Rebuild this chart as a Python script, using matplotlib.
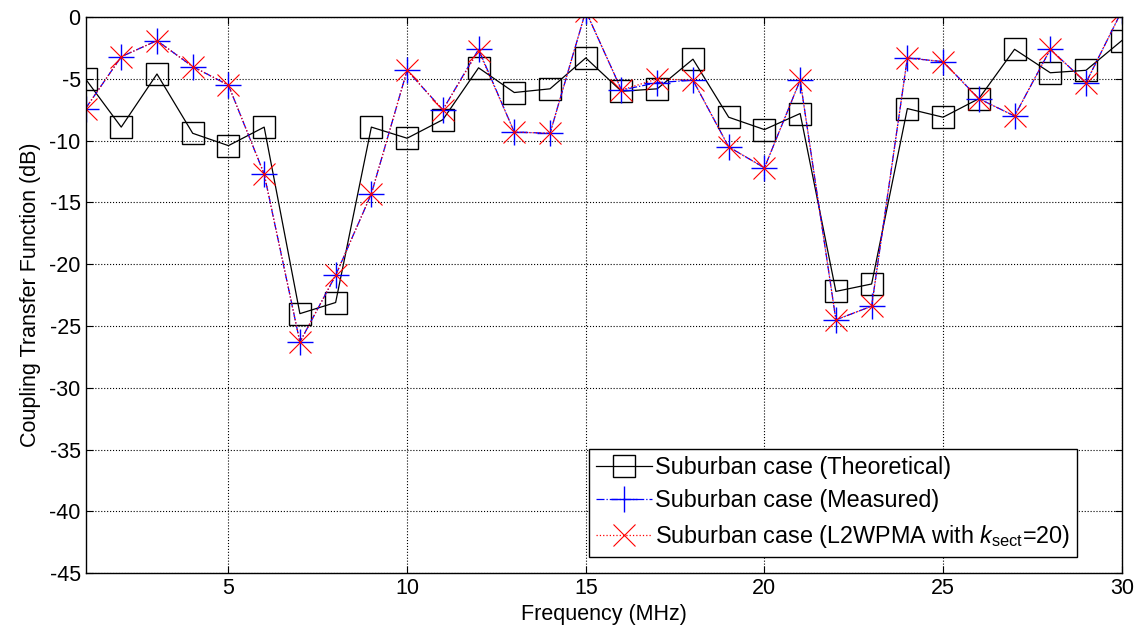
import numpy as np
import matplotlib
matplotlib.use("Agg")
import matplotlib.pyplot as plt

plt.rcParams['font.family'] = ['Liberation Sans', 'DejaVu Sans']
plt.rcParams['mathtext.fontset'] = 'custom'
plt.rcParams['mathtext.rm'] = 'Liberation Sans'
plt.rcParams['mathtext.it'] = 'Liberation Sans:italic'
plt.rcParams['axes.unicode_minus'] = False

# frequencies in MHz
freq = list(range(1, 31))

# coupling transfer function (dB)
theoretical = [-5.0, -8.9, -4.6, -9.4, -10.4, -8.9, -24.0, -23.1, -8.9, -9.8,
               -8.3, -4.1, -6.1, -5.8, -3.3, -6.0, -5.8, -3.4, -8.1, -9.1,
               -7.8, -22.2, -21.6, -7.4, -8.1, -6.6, -2.6, -4.5, -4.3, -1.9]
measured = [-7.4, -3.2, -1.9, -4.0, -5.5, -12.7, -26.3, -20.9, -14.3, -4.3,
            -7.5, -2.6, -9.3, -9.4, 0.5, -5.9, -5.3, -5.1, -10.5, -12.2,
            -5.1, -24.5, -23.4, -3.3, -3.6, -6.6, -8.0, -2.6, -5.3, 0.5]
l2wpma = [-7.4, -3.2, -1.9, -4.0, -5.5, -12.7, -26.3, -20.9, -14.3, -4.3,
          -7.5, -2.7, -9.3, -9.4, 0.5, -5.9, -5.0, -5.1, -10.5, -12.2,
          -5.1, -24.5, -23.4, -3.3, -3.6, -6.6, -8.0, -2.6, -5.3, 0.5]

labels = ['Suburban case (Theoretical)',
          'Suburban case (Measured)',
          r'Suburban case (L2WPMA with $k_{\mathrm{sect}}$=20)']

xticks = [5, 10, 15, 20, 25, 30]
yticks = list(range(-45, 1, 5))

fig = plt.figure(figsize=(11.4, 6.36), dpi=100)
ax = fig.add_axes([0.075, 0.099, 0.909, 0.874])

ax.plot(freq, theoretical, color='black', linestyle='-', linewidth=0.9,
        marker='s', markersize=16.5, markerfacecolor='none',
        markeredgecolor='black', markeredgewidth=1.0, label=labels[0])
ax.plot(freq, measured, color='blue', linestyle='-.', linewidth=0.9,
        marker='+', markersize=19, markeredgewidth=1.0, label=labels[1])
ax.plot(freq, l2wpma, color='red', linestyle=':', linewidth=0.9,
        marker='x', markersize=16, markeredgewidth=0.8, label=labels[2])

ax.set_xlim(1, 30)
ax.set_ylim(-45, 0)
ax.set_xticks(xticks)
ax.set_yticks(yticks)
ax.grid(True, color='black', linestyle=':', linewidth=0.8)
ax.tick_params(direction='in', length=5, labelsize=15.5, top=True, right=True,
               width=0.8)
for s in ax.spines.values():
    s.set_linewidth(1.0)

ax.set_xlabel('Frequency (MHz)', fontsize=15.5, labelpad=4)
ax.set_ylabel('Coupling Transfer Function (dB)', fontsize=15.5, labelpad=6)

leg = ax.legend(loc='lower right', bbox_to_anchor=(0.957, 0.029),
                fontsize=16.8, fancybox=False, framealpha=1, edgecolor='black',
                handlelength=2.4, handletextpad=0.12, borderpad=0.3,
                labelspacing=0.45, borderaxespad=0)
leg.get_frame().set_linewidth(1.0)

fig.savefig('out.png', dpi=100)
